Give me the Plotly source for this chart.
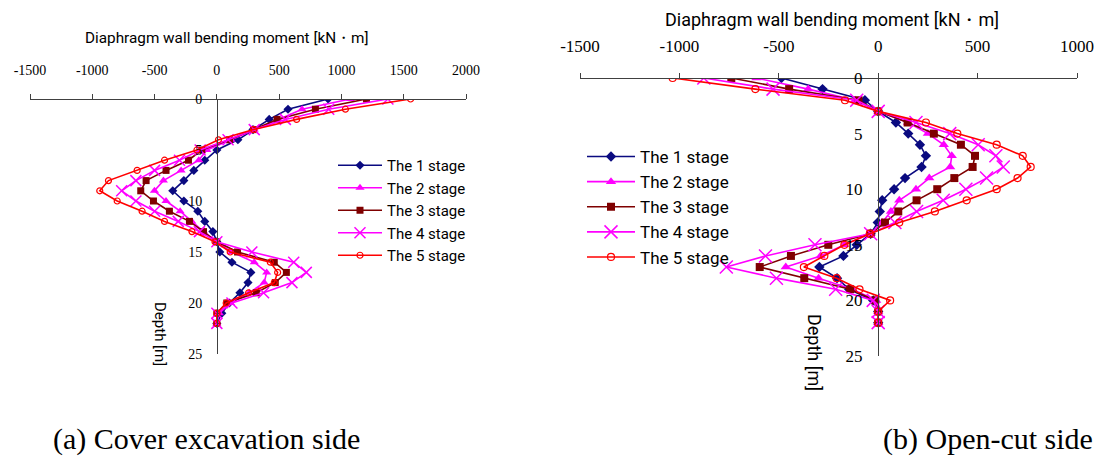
import plotly.graph_objects as go

# ---------------- data ----------------
stages = ["The 1 stage", "The 2 stage", "The 3 stage", "The 4 stage", "The 5 stage"]
depth = list(range(0, 23))

# (a) Cover excavation side — bending moment [kN·m] per depth
a_s1 = [893, 571, 420, 290, 169, 0, -97, -185, -265, -354, -265, -153, -97, -32, 0, 24, 121, 273, 250, 185, 100, 40, 0]
a_s2 = [1072, 684, 496, 300, 113, -80, -145, -287, -429, -501, -408, -295, -201, -107, 0, 120, 300, 400, 380, 260, 110, 20, 0]
a_s3 = [1201, 791, 483, 295, 102, -121, -228, -408, -568, -611, -509, -381, -220, -107, 0, 166, 461, 558, 469, 316, 80, 0, 0]
a_s4 = [1373, 898, 550, 300, 90, -134, -300, -500, -650, -764, -650, -500, -310, -140, 0, 281, 617, 718, 603, 375, 121, 0, 0]
a_s5 = [1555, 1032, 640, 295, 13, -160, -420, -640, -870, -940, -800, -600, -420, -200, -15, 107, 429, 488, 461, 255, 75, 0, 0]

# (b) Open-cut side
b_s1 = [-487, -280, -67, 0, 89, 151, 210, 240, 218, 135, 80, 20, 8, -2, -38, -108, -175, -296, -207, -146, -25, 0, 0]
b_s2 = [-613, -352, -116, 0, 150, 250, 330, 370, 362, 257, 190, 106, 64, 20, -38, -170, -290, -465, -300, -130, -10, 0, 0]
b_s3 = [-739, -448, -99, 0, 148, 280, 416, 487, 475, 383, 297, 193, 101, 34, -38, -251, -439, -596, -372, -141, -15, 0, 0]
b_s4 = [-877, -529, -108, 0, 190, 360, 503, 592, 629, 545, 441, 327, 193, 84, -38, -318, -567, -764, -512, -214, -25, 0, 0]
b_s5 = [-1034, -618, -167, 0, 240, 398, 596, 727, 767, 701, 596, 445, 285, 106, -42, -170, -271, -374, -209, -94, 60, 0, 0]

a_xticks = [-1500, -1000, -500, 0, 500, 1000, 1500, 2000]
b_xticks = [-1500, -1000, -500, 0, 500, 1000]
y_ticks = [0, 5, 10, 15, 20, 25]

x_title = "Diaphragm wall bending moment [kN・m]"
y_title = "Depth [m]"
cap_a = "(a) Cover excavation side"
cap_b = "(b) Open-cut side"

# ---------------- styles ----------------
colors = ["#0A0A80", "#FF00FF", "#7F0000", "#FF00FF", "#FF0000"]
symbols = ["diamond", "triangle-up", "square", "x-thin", "circle-open"]

W, H = 1098, 461
SERIF = "Liberation Serif"
SANS = "Roboto"

def px_x(p):
    return p / W

def px_y(p):
    return 1 - p / H

fig = go.Figure()

def add_series(vals_list, xa, ya, legend, msize):
    for i, vals in enumerate(vals_list):
        sym = symbols[i]
        mk = dict(symbol=sym, size=msize[i], color=colors[i])
        if sym == "x-thin":
            mk["line"] = dict(color=colors[i], width=1.5)
        elif sym == "circle-open":
            mk["line"] = dict(color=colors[i], width=1.2)
        else:
            mk["line"] = dict(width=0)
        fig.add_trace(go.Scatter(
            x=vals, y=depth, mode="lines+markers", name=stages[i],
            xaxis=xa, yaxis=ya, legend=legend,
            line=dict(color=colors[i], width=1.6),
            marker=mk,
        ))

add_series([a_s1, a_s2, a_s3, a_s4, a_s5], "x", "y", "legend", [7, 8, 7, 11, 6])
add_series([b_s1, b_s2, b_s3, b_s4, b_s5], "x2", "y2", "legend2", [8, 9, 8, 13, 7])

def xaxis_cfg(domain, rng, ticks, fsize, standoff):
    return dict(
        domain=domain, range=rng, side="top", anchor="free",
        tickvals=ticks, ticktext=[str(t) for t in ticks],
        ticks="outside", ticklen=5, tickcolor="#404040", tickwidth=1,
        showline=True, linecolor="#404040", linewidth=1,
        showgrid=False, zeroline=False, automargin=False,
        tickfont=dict(family=SERIF, size=fsize, color="black"),
        ticklabelstandoff=standoff,
    )

def yaxis_cfg(domain, pos, fsize):
    return dict(
        domain=domain, range=[25, 0], anchor="free", position=pos,
        tickvals=y_ticks, ticktext=[str(t) for t in y_ticks],
        ticks="", showline=True, linecolor="#404040", linewidth=1,
        showgrid=False, zeroline=False, automargin=False,
        tickfont=dict(family=SERIF, size=fsize, color="black"),
        ticklabelstandoff=12,
    )

a_xdom = [px_x(30), px_x(466)]
a_ydom = [px_y(354), px_y(99)]
b_xdom = [px_x(580), px_x(1077)]
b_ydom = [px_y(356), px_y(78)]

xa = xaxis_cfg(a_xdom, [-1500, 2000], a_xticks, 14, 13)
xa["position"] = a_ydom[1]
xb = xaxis_cfg(b_xdom, [-1500, 1000], b_xticks, 17, 14)
xb["position"] = b_ydom[1]
ya = yaxis_cfg(a_ydom, px_x(217), 14)
yb = yaxis_cfg(b_ydom, px_x(878), 17)

def ann(text, x, y, size, family, angle=0, xanchor="center"):
    return dict(text=text, x=px_x(x), y=px_y(y), xref="paper", yref="paper",
                xanchor=xanchor, yanchor="middle", showarrow=False, textangle=angle,
                font=dict(family=family, size=size, color="black"))

fig.update_layout(
    width=W, height=H,
    margin=dict(l=0, r=0, t=0, b=0, autoexpand=False),
    paper_bgcolor="white", plot_bgcolor="rgba(0,0,0,0)",
    xaxis=xa, yaxis=ya, xaxis2=xb, yaxis2=yb,
    showlegend=True,
    legend=dict(
        x=px_x(333), y=px_y(149), xanchor="left", yanchor="top",
        bgcolor="rgba(0,0,0,0)", borderwidth=0,
        font=dict(family=SANS, size=15, color="black"),
        itemwidth=44, tracegroupgap=0,
    ),
    legend2=dict(
        x=px_x(582), y=px_y(139), xanchor="left", yanchor="top",
        bgcolor="rgba(0,0,0,0)", borderwidth=0,
        font=dict(family=SANS, size=17, color="black"),
        itemwidth=48, tracegroupgap=0,
    ),
    annotations=[
        ann(x_title, 227, 38, 15.3, SANS),
        ann(x_title, 832, 19, 18, SANS),
        ann(y_title, 160, 334, 15, SANS, angle=90),
        ann(y_title, 815, 352, 18, SANS, angle=90),
        ann(cap_a, 51, 439, 30, SERIF, xanchor="left"),
        ann(cap_b, 1095, 439, 30, SERIF, xanchor="right"),
    ],
)

fig.write_html("out.html", config={"displayModeBar": False},
               post_script="document.body.style.margin='0px';")
